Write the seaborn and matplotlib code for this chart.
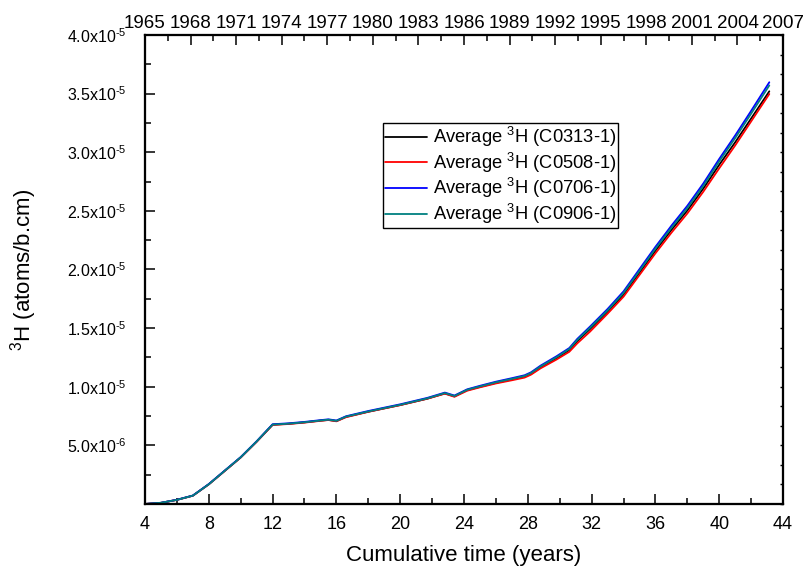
import numpy as np
import pandas as pd
import matplotlib
matplotlib.use("Agg")
import matplotlib.pyplot as plt
from matplotlib import font_manager
from matplotlib.ticker import MultipleLocator, FixedLocator, FuncFormatter
import seaborn as sns

# Cumulative irradiation time (years)
time_years = [4, 5, 6, 7, 8, 9, 10, 11, 12, 13, 14, 15, 15.5, 16, 16.6, 18, 20,
              21.7, 22.8, 23.4, 24.2, 25, 26, 27, 27.8, 28.2, 28.8, 29.8, 30.6,
              31.1, 31.9, 33, 34, 35, 36, 37, 38, 39, 40, 41, 42, 43.14]

# Average tritium concentration per channel, in units of 1e-5 atoms/b.cm
h3_c0313 = [0.000, 0.010, 0.035, 0.071, 0.168, 0.283, 0.397, 0.532, 0.676, 0.684,
            0.696, 0.711, 0.717, 0.707, 0.743, 0.787, 0.844, 0.898, 0.943, 0.918,
            0.971, 0.999, 1.033, 1.062, 1.085, 1.109, 1.165, 1.244, 1.313, 1.389,
            1.492, 1.641, 1.786, 1.973, 2.160, 2.337, 2.503, 2.690, 2.893, 3.085,
            3.288, 3.520]
h3_c0508 = [0.000, 0.009, 0.035, 0.070, 0.167, 0.281, 0.396, 0.530, 0.674, 0.682,
            0.694, 0.709, 0.716, 0.705, 0.740, 0.786, 0.843, 0.898, 0.941, 0.914,
            0.966, 0.995, 1.028, 1.055, 1.078, 1.103, 1.157, 1.232, 1.298, 1.370,
            1.470, 1.623, 1.768, 1.953, 2.138, 2.313, 2.478, 2.663, 2.863, 3.058,
            3.263, 3.497]
h3_c0706 = [0.000, 0.010, 0.036, 0.072, 0.170, 0.285, 0.400, 0.535, 0.680, 0.688,
            0.700, 0.715, 0.722, 0.712, 0.748, 0.793, 0.850, 0.905, 0.950, 0.925,
            0.978, 1.008, 1.043, 1.073, 1.098, 1.123, 1.180, 1.260, 1.330, 1.408,
            1.513, 1.663, 1.813, 2.003, 2.193, 2.373, 2.543, 2.733, 2.943, 3.143,
            3.353, 3.597]
h3_c0906 = [0.000, 0.010, 0.035, 0.071, 0.168, 0.283, 0.398, 0.533, 0.677, 0.685,
            0.697, 0.712, 0.719, 0.709, 0.745, 0.789, 0.846, 0.901, 0.946, 0.921,
            0.974, 1.003, 1.038, 1.067, 1.092, 1.117, 1.173, 1.252, 1.322, 1.399,
            1.503, 1.651, 1.800, 1.988, 2.177, 2.355, 2.524, 2.713, 2.922, 3.121,
            3.329, 3.570]

series_labels = ["Average $^3$H (C0313-1)", "Average $^3$H (C0508-1)",
                 "Average $^3$H (C0706-1)", "Average $^3$H (C0906-1)"]
series_colors = ["#000000", "#FF0000", "#0000FF", "#008080"]

calendar_years = list(range(1965, 2008, 3))

sns.set_theme(style="ticks")
plt.rcParams["font.family"] = ["Liberation Sans", "DejaVu Sans"]
plt.rcParams["mathtext.fontset"] = "custom"
plt.rcParams["mathtext.rm"] = "Liberation Sans"
plt.rcParams["mathtext.it"] = "Liberation Sans:italic"
plt.rcParams["mathtext.bf"] = "Liberation Sans:bold"
plt.rcParams["mathtext.default"] = "regular"
for key in ["text.color", "axes.labelcolor", "xtick.color", "ytick.color",
            "axes.edgecolor"]:
    plt.rcParams[key] = "black"

installed = {f.name for f in font_manager.fontManager.ttflist}
narrow_family = "Liberation Sans Narrow" if "Liberation Sans Narrow" in installed else None

frames = []
for label, vals in zip(series_labels, [h3_c0313, h3_c0508, h3_c0706, h3_c0906]):
    frames.append(pd.DataFrame({"time": time_years,
                                "h3": np.asarray(vals) * 1e-5,
                                "series": label}))
df = pd.concat(frames, ignore_index=True)

fig = plt.figure(figsize=(8.05, 5.74), dpi=100)
ax = fig.add_axes([0.1801, 0.1220, 0.7926, 0.8170])

sns.lineplot(data=df, x="time", y="h3", hue="series", hue_order=series_labels,
             palette=series_colors, estimator=None, sort=False, linewidth=1.3,
             ax=ax)

ax.set_xlim(4, 44)
ax.set_ylim(0, 4e-5)

ax.xaxis.set_major_locator(MultipleLocator(4))
ax.xaxis.set_minor_locator(MultipleLocator(2))
ax.yaxis.set_major_locator(FixedLocator([i * 5e-6 for i in range(1, 9)]))
ax.yaxis.set_minor_locator(MultipleLocator(2.5e-6))


def sci_fmt(v, pos):
    if v <= 0:
        return ""
    exp = int(np.floor(np.log10(v)))
    mant = v / 10 ** exp
    return f"{mant:.1f}x10$^{{\\text{{{exp}}}}}$"


ax.yaxis.set_major_formatter(FuncFormatter(sci_fmt))

for sp in ax.spines.values():
    sp.set_visible(True)
    sp.set_linewidth(1.5)
    sp.set_color("black")

ax.tick_params(axis="both", which="major", direction="in", length=7, width=1.1,
               color="black", labelcolor="black")
ax.tick_params(axis="both", which="minor", direction="in", length=4, width=1.1,
               color="black")
ax.tick_params(axis="x", which="major", labelsize=13, pad=9)
ax.tick_params(axis="y", which="major", labelsize=11.5, pad=13)
ax.tick_params(top=False, right=False, which="both")

ax.set_xlabel("Cumulative time (years)", fontsize=16, labelpad=8)
ax.set_ylabel("$^3$H (atoms/b.cm)", fontsize=16, labelpad=20)

# Calendar-year scale along the top edge
ax_top = ax.twiny()
ax_top.set_xlim(1965, 2007)
ax_top.xaxis.set_major_locator(FixedLocator(calendar_years))
ax_top.xaxis.set_minor_locator(MultipleLocator(1.5))
ax_top.tick_params(axis="x", which="major", direction="in", length=7, width=1.1,
                   pad=2, labelsize=17 if narrow_family else 13.5,
                   color="black", labelcolor="black")
ax_top.tick_params(axis="x", which="minor", direction="in", length=4, width=1.1,
                   color="black")
if narrow_family:
    for t in ax_top.get_xticklabels():
        t.set_family(narrow_family)
for sp in ax_top.spines.values():
    sp.set_linewidth(1.5)
    sp.set_color("black")

# Fine unlabelled ticks on the right edge
ax_right = ax.twinx()
ax_right.set_ylim(0, 24)
ax_right.yaxis.set_major_locator(MultipleLocator(1))
ax_right.tick_params(axis="y", which="major", direction="in", length=2.5,
                     width=1.0, labelright=False, color="black")
for sp in ax_right.spines.values():
    sp.set_linewidth(1.5)
    sp.set_color("black")
ax_right.grid(False)
ax_top.grid(False)

handles, labels = ax.get_legend_handles_labels()
if ax.get_legend():
    ax.get_legend().remove()
leg = ax_right.legend(handles, labels, loc="upper left",
                      bbox_to_anchor=(0.3726, 0.8117), fontsize=13.2,
                      frameon=True, fancybox=False, framealpha=1,
                      edgecolor="black", borderpad=0.1, labelspacing=0.08,
                      handlelength=2.3, handletextpad=0.35, borderaxespad=0)
leg.get_frame().set_linewidth(1.0)
for ln in leg.get_lines():
    ln.set_linewidth(1.3)

fig.savefig("out.png", dpi=100)
